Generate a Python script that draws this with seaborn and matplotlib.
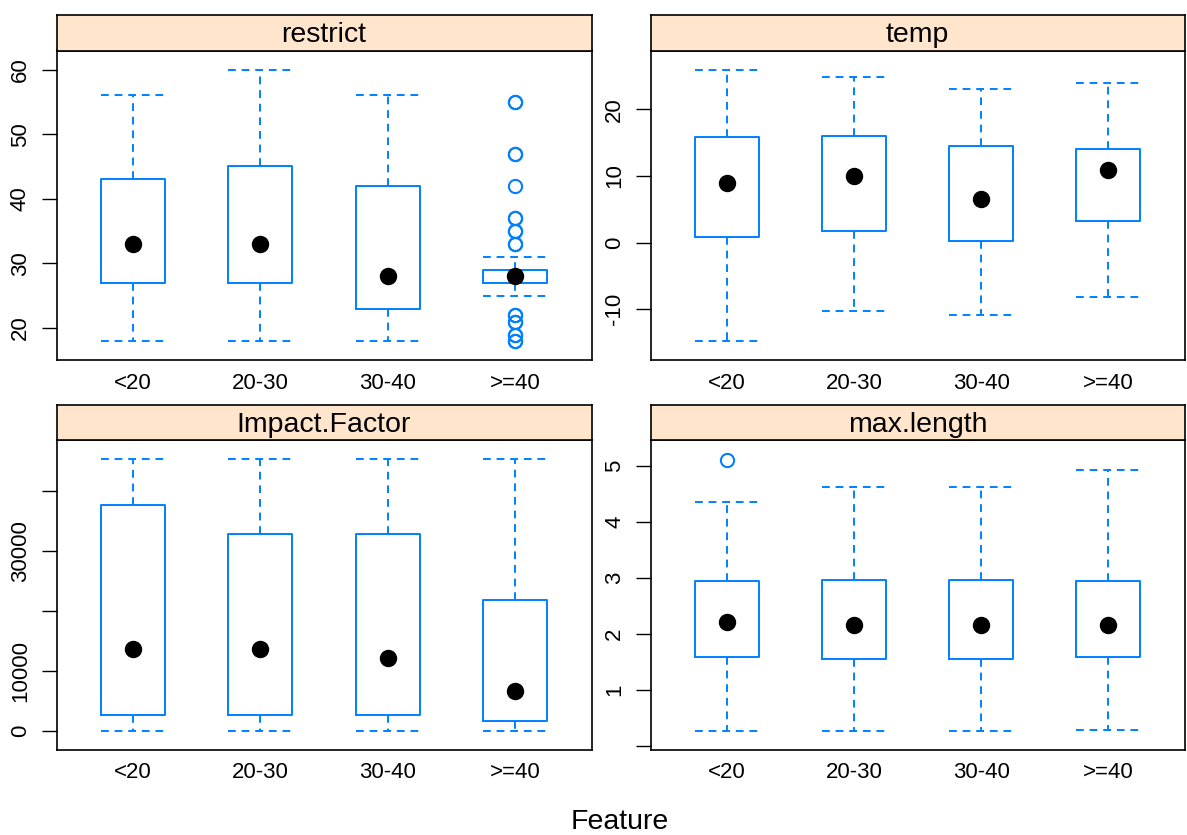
import numpy as np
import pandas as pd
import matplotlib
matplotlib.use("Agg")
import matplotlib.pyplot as plt
import seaborn as sns

sns.set_style("white")
plt.rcParams['font.family'] = ['Liberation Sans', 'DejaVu Sans']
plt.rcParams['text.color'] = 'black'
plt.rcParams['xtick.color'] = 'black'
plt.rcParams['ytick.color'] = 'black'
plt.rcParams['axes.labelcolor'] = 'black'

# ---------------- data ----------------
groups = ["<20", "20-30", "30-40", ">=40"]
features = ["restrict", "temp", "Impact.Factor", "max.length"]

restrict_lo = [18, 18, 18, 25]
restrict_q1 = [27, 27, 23, 27]
restrict_med = [33, 33, 28, 28]
restrict_q3 = [43, 45, 42, 29]
restrict_hi = [56, 60, 56, 31]
restrict_out = [[], [], [],
                [55, 55, 47, 47, 42, 37, 37, 35, 35, 33, 33,
                 22, 22, 21, 21, 19, 19, 18, 18]]

temp_lo = [-14.75, -10.25, -10.8, -8.1]
temp_q1 = [0.85, 1.7, 0.3, 3.3]
temp_med = [9.0, 10.05, 6.55, 10.85]
temp_q3 = [15.8, 16.05, 14.5, 14.1]
temp_hi = [25.95, 24.8, 23.05, 24.0]
temp_out = [[], [], [], []]

impact_lo = [0, 0, 0, 0]
impact_q1 = [2667, 2667, 2611, 1667]
impact_med = [13667, 13667, 12111, 6611]
impact_q3 = [37722, 32833, 32833, 21889]
impact_hi = [45300, 45300, 45300, 45300]
impact_out = [[], [], [], []]

maxlen_lo = [0.26, 0.26, 0.26, 0.27]
maxlen_q1 = [1.59, 1.54, 1.54, 1.59]
maxlen_med = [2.20, 2.16, 2.15, 2.16]
maxlen_q3 = [2.94, 2.96, 2.95, 2.94]
maxlen_hi = [4.35, 4.62, 4.62, 4.92]
maxlen_out = [[5.11], [], [], []]

restrict_ticks = [20, 30, 40, 50, 60]
restrict_ticklabels = ["20", "30", "40", "50", "60"]
temp_ticks = [-10, 0, 10, 20]
temp_ticklabels = ["-10", "0", "10", "20"]
impact_ticks = [0, 10000, 20000, 30000, 40000]
impact_ticklabels = ["0", "10000", "", "30000", ""]
maxlen_ticks = [0, 1, 2, 3, 4, 5]
maxlen_ticklabels = ["", "1", "2", "3", "4", "5"]


def build_frame(lo, q1, med, q3, hi, out, m=30):
    """Sample whose quartiles / whisker ends equal the summaries above."""
    rows = []
    for g, a, b, c, d, e, o in zip(groups, lo, q1, med, q3, hi, out):
        vals = [a] + [b] * m + [c] * m + [d] * m + [e] + list(o)
        rows += [(g, v) for v in vals]
    return pd.DataFrame(rows, columns=["group", "value"])


panels = {
    "restrict": dict(df=build_frame(restrict_lo, restrict_q1, restrict_med, restrict_q3, restrict_hi, restrict_out),
                     ylim=(15.06, 62.94), ticks=restrict_ticks, labels=restrict_ticklabels),
    "temp": dict(df=build_frame(temp_lo, temp_q1, temp_med, temp_q3, temp_hi, temp_out),
                 ylim=(-17.6, 28.8), ticks=temp_ticks, labels=temp_ticklabels),
    "Impact.Factor": dict(df=build_frame(impact_lo, impact_q1, impact_med, impact_q3, impact_hi, impact_out),
                          ylim=(-3170, 48470), ticks=impact_ticks, labels=impact_ticklabels),
    "max.length": dict(df=build_frame(maxlen_lo, maxlen_q1, maxlen_med, maxlen_q3, maxlen_hi, maxlen_out),
                       ylim=(-0.08, 5.45), ticks=maxlen_ticks, labels=maxlen_ticklabels),
}

# ---------------- layout ----------------
W, H = 1187, 835
fig = plt.figure(figsize=(W / 100, H / 100), dpi=100)

boxes_px = {
    "restrict": (56.5, 50.5, 591.5, 360),
    "temp": (650.7, 50.5, 1184.5, 360),
    "Impact.Factor": (56.5, 440.5, 591.5, 750),
    "max.length": (650.7, 440.5, 1184.5, 750),
}
strip_h = 35.5


def px_rect(x0, y0, x1, y1):
    return [x0 / W, 1 - y1 / H, (x1 - x0) / W, (y1 - y0) / H]


BLUE = "#0080ff"
dash = (0, (4, 3))

for feat in features:
    x0, y0, x1, y1 = boxes_px[feat]
    p = panels[feat]
    ax = fig.add_axes(px_rect(x0, y0, x1, y1))
    sns.boxplot(data=p["df"], x="group", y="value", order=groups, ax=ax,
                width=0.5, fill=False, color=BLUE, linecolor=BLUE, linewidth=1.4,
                whis=1.5,
                whiskerprops=dict(linestyle=dash),
                capprops=dict(linestyle=dash),
                medianprops=dict(visible=False),
                flierprops=dict(marker="o", markersize=9.5, markerfacecolor="none",
                                markeredgecolor=BLUE, markeredgewidth=1.5))
    # full-width caps like lattice
    for cont in ax.containers:
        caps = getattr(cont, "caps", None)
        if caps:
            for cap in caps:
                xd = np.asarray(cap.get_xdata(), float)
                c = xd.mean()
                cap.set_xdata([c - 0.25, c + 0.25])
    sns.pointplot(data=p["df"], x="group", y="value", order=groups, ax=ax,
                  estimator="median", errorbar=None, color="black",
                  linestyle="none", marker="o", markersize=10.5)
    ax.set_xlim(-0.6, 3.6)
    ax.set_ylim(*p["ylim"])
    ax.set_yticks(p["ticks"])
    ax.set_yticklabels(p["labels"])
    ax.set_xlabel("")
    ax.set_ylabel("")
    ax.tick_params(axis="y", left=True, length=10.5, width=1.0, direction="out",
                   pad=8, labelsize=16, labelrotation=90, color="black",
                   labelcolor="black")
    ax.tick_params(axis="x", bottom=False, length=0, pad=9, labelsize=16,
                   labelcolor="black")
    for lbl in ax.get_yticklabels():
        lbl.set_va("center")
    for sp in ax.spines.values():
        sp.set_visible(True)
        sp.set_color("black")
        sp.set_linewidth(1.2)
    ax.set_facecolor("white")

    # strip
    sax = fig.add_axes(px_rect(x0, y0 - strip_h, x1, y0))
    sax.set_facecolor("#ffe5cc")
    sax.set_xticks([])
    sax.set_yticks([])
    for sp in sax.spines.values():
        sp.set_visible(True)
        sp.set_color("black")
        sp.set_linewidth(1.2)
    sax.text(0.5, 0.45, feat, ha="center", va="center", fontsize=20.5,
             color="black", transform=sax.transAxes)

fig.text(620 / W, 1 - 822 / H, "Feature", ha="center", va="center",
         fontsize=20.5, color="black")

fig.savefig("out.png", dpi=100)
